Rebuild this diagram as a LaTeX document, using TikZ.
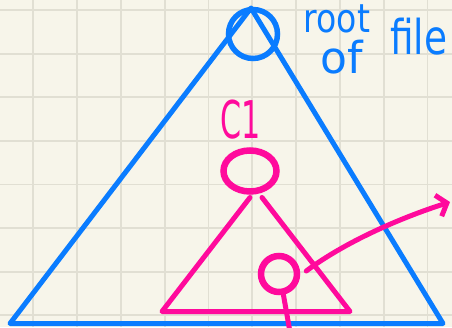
\documentclass[tikz,border=0pt]{standalone}
\usepackage{graphicx}
\usepackage{fontspec}
\setmainfont{DejaVu Sans}
\usetikzlibrary{arrows.meta,shapes.geometric}
\definecolor{paper}{HTML}{F7F5EA}
\definecolor{gridc}{HTML}{E1DFD3}
\definecolor{inkblue}{HTML}{0A7CFF}
\definecolor{inkpink}{HTML}{FF0A9C}
\tikzset{
  gridline/.style={draw=gridc, line width=1.8pt},
  blueink/.style={draw=inkblue, line width=5pt, line cap=round, line join=round},
  pinkink/.style={draw=inkpink, line width=5pt, line cap=round, line join=round},
  pinkring/.style={draw=inkpink, line width=6.5pt, inner sep=0pt},
  bluering/.style={draw=inkblue, line width=5.5pt, inner sep=0pt},
  bluetext/.style={text=inkblue, inner sep=0pt},
  pinktext/.style={text=inkpink, inner sep=0pt},
}
\begin{document}
\begin{tikzpicture}[x=1pt,y=-1pt]
\useasboundingbox (0,0) rectangle (452,327);
\clip (0,0) rectangle (452,327);
\fill[paper] (0,0) rectangle (452,327);
% grid
\foreach \i in {0,...,9} \draw[gridline] ({33.3+43.8*\i},0) -- ++(0,327);
\foreach \j in {0,...,7} \draw[gridline] (0,{10+43.6*\j}) -- ++(452,0);

% big blue triangle
\draw[blueink] (10,323.5) -- (251,8) -- (443,323.5) -- cycle;
\node[circle, bluering, minimum size=49pt] (root) at (253,34) {};

% labels
\node[bluetext, anchor=base, font=\fontsize{36}{36}\selectfont] (lroot) at (337,32) {\scalebox{0.92}[1.1]{root}};
\node[bluetext, anchor=base, font=\fontsize{44}{44}\selectfont] (lof) at (342,73) {of};
\node[bluetext, anchor=base west, font=\fontsize{48}{48}\selectfont] (lfile) at (390,54) {\scalebox{0.78}[1]{file}};

% pink subtree
\node[pinktext, anchor=base, font=\fontsize{52}{52}\selectfont] (lc1) at (241,138) {\scalebox{0.58}[1]{C1}};
\node[ellipse, pinkring, minimum width=53pt, minimum height=41pt] (c1) at (250,171) {};
\draw[pinkink] (250,197.5) -- (162,311.5) -- (350,311.5) -- (262,197.5);

\node[circle, pinkring, minimum size=36pt] (q) at (279,274) {};
\coordinate (qdown) at (290,332);
\coordinate (qtip) at (450,202);
\draw[pinkink] (q.-78) -- (qdown);
\draw[pinkink, -{Straight Barb[length=9pt,width=22pt]}]
  ([xshift=6pt,yshift=3pt]q.east) .. controls (345,242) and (400,218) .. (qtip);
\end{tikzpicture}
\end{document}
